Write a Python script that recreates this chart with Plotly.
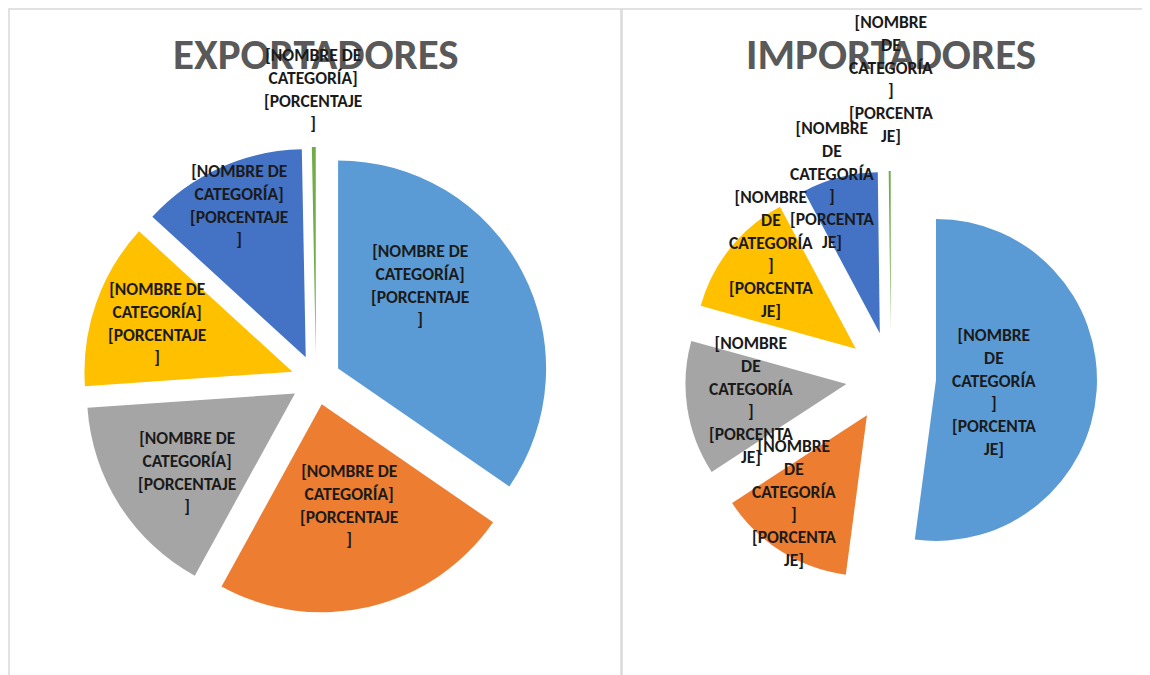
import math
import plotly.graph_objects as go

# ---------------- data ----------------
categorias = ["Categoría 1", "Categoría 2", "Categoría 3", "Categoría 4", "Categoría 5", "Categoría 6"]
exportadores = [34.6, 23.4, 15.9, 12.9, 12.9, 0.3]
importadores = [52.1, 13.7, 13.5, 12.9, 7.6, 0.2]
titulos = ["EXPORTADORES", "IMPORTADORES"]
etiqueta_exp = "[NOMBRE DE<br>CATEGORÍA]<br>[PORCENTAJE<br>]"
etiqueta_imp = "[NOMBRE<br>DE<br>CATEGORÍA<br>]<br>[PORCENTA<br>JE]"

# ---------------- style ----------------
W, H = 1150, 675
OFF = 8  # page body margin in the browser
colores = ["#5B9BD5", "#ED7D31", "#A5A5A5", "#FFC000", "#4472C4", "#70AD47"]
FONT = "Carlito, 'Liberation Sans Narrow', Lato, sans-serif"


def px(x):
    return (x - OFF) / W


def py(y):
    return 1 - (y - OFF) / H


# pie geometry (pixels): center, radius, pull
pies = [
    dict(vals=exportadores, cx=316, cy=380, r=208, pull=0.12, label=etiqueta_exp,
         rf=[0.56, 0.50, 0.64, 0.69, 0.80, 1.28], shift=[-17.7, -2, -3.5, 0.5, 0.5, 0]),
    dict(vals=importadores, cx=891, cy=377, r=161, pull=0.28, label=etiqueta_imp,
         rf=[0.37, 0.71, 0.60, 0.79, 0.97, 1.57], shift=[7.7, 7.2, -0.7, 9.5, -3.6, 0.5]),
]

fig = go.Figure()
annotations = []
for k, p in enumerate(pies):
    half = p["r"] * (1 + p["pull"])
    dx = [px(p["cx"] - half), px(p["cx"] + half)]
    dy = [py(p["cy"] + half), py(p["cy"] - half)]
    fig.add_trace(go.Pie(
        labels=categorias, values=p["vals"], sort=False, direction="clockwise",
        rotation=0, pull=[p["pull"]] * len(p["vals"]),
        marker=dict(colors=colores, line=dict(width=0)),
        textinfo="none", hoverinfo="label+percent", showlegend=False,
        domain=dict(x=dx, y=dy),
    ))
    total = sum(p["vals"])
    cum = 0
    for i, v in enumerate(p["vals"]):
        mid = (cum + v / 2) / total * 360
        cum += v
        vx = p["cx"] + p["pull"] * p["r"] * math.sin(math.radians(mid))
        vy = p["cy"] - p["pull"] * p["r"] * math.cos(math.radians(mid))
        a = math.radians(mid + p["shift"][i])
        lx = vx + p["rf"][i] * p["r"] * math.sin(a)
        ly = vy - p["rf"][i] * p["r"] * math.cos(a)
        annotations.append(dict(
            x=px(lx), y=py(ly), xref="paper", yref="paper",
            text="<b>" + p["label"] + "</b>", showarrow=False,
            font=dict(family=FONT, size=17.5, color="#1a1a1a"),
            align="center", xanchor="center", yanchor="middle",
        ))
    annotations.insert(0, dict(
        x=px(p["cx"]), y=py(54), xref="paper", yref="paper",
        text="<b>" + titulos[k] + "</b>", showarrow=False,
        font=dict(family=FONT, size=43, color="#595959"),
        xanchor="center", yanchor="middle",
    ))

TOP = py(9)
shapes = [
    dict(type="rect", xref="paper", yref="paper", x0=px(9), x1=px(621), y0=-0.05, y1=TOP,
         line=dict(color="#D9D9D9", width=1.5), fillcolor="rgba(0,0,0,0)", layer="below"),
    dict(type="rect", xref="paper", yref="paper", x0=px(622), x1=1.05, y0=-0.05, y1=TOP,
         line=dict(color="#D9D9D9", width=1.5), fillcolor="rgba(0,0,0,0)", layer="below"),
]

fig.update_layout(
    width=W, height=H, margin=dict(l=0, r=0, t=0, b=0),
    paper_bgcolor="white", plot_bgcolor="white",
    annotations=annotations, shapes=shapes,
)
fig.write_html("out.html")
